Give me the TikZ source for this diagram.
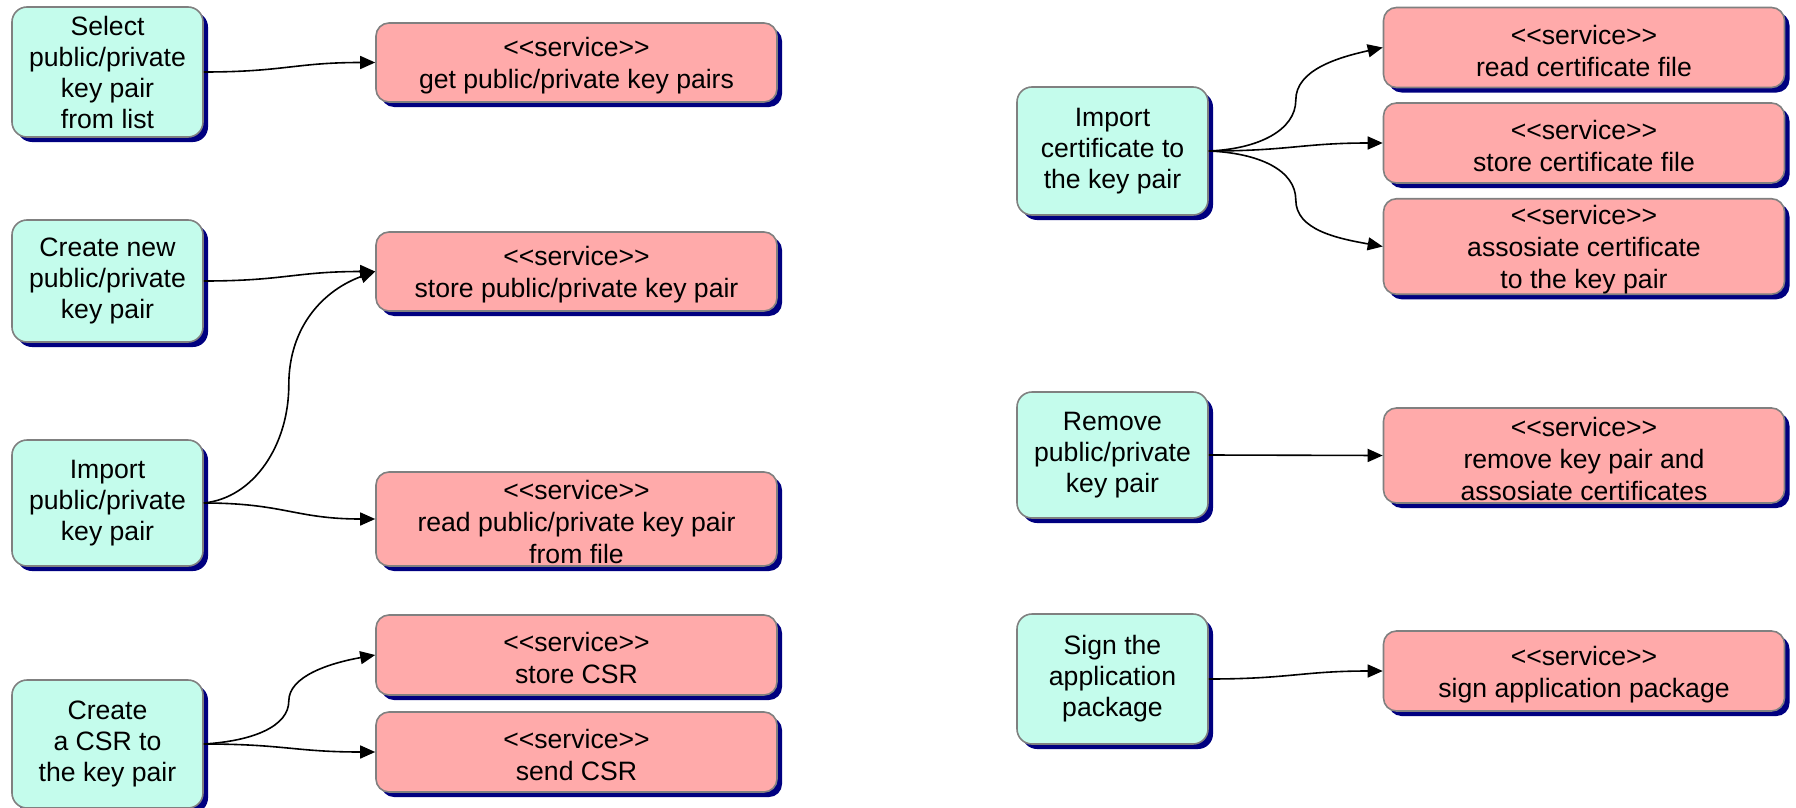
\documentclass[tikz,border=0pt]{standalone}
\usepackage{fontspec}
\setmainfont{Liberation Sans}
\usetikzlibrary{shadows,arrows.meta}
\definecolor{actfill}{RGB}{196,252,236}
\definecolor{svcfill}{RGB}{255,170,170}
\definecolor{bordergray}{RGB}{128,128,128}
\definecolor{shadownavy}{RGB}{0,0,128}
\newcommand\svc{\rule{0pt}{26pt}<\kern0pt<service>\kern0pt>}
\tikzset{
  box/.style={rectangle, draw=bordergray, line width=1.6pt, align=center, inner sep=0pt,
    drop shadow={shadow xshift=5pt, shadow yshift=-5pt, fill=shadownavy, opacity=1}},
  act/.style={box, fill=actfill, rounded corners=15pt, minimum width=191pt,
    font=\fontsize{26.6}{31}\selectfont},
  svcbox/.style={box, fill=svcfill, rounded corners=13pt, minimum width=401pt,
    font=\fontsize{26.6}{32}\selectfont},
  conn/.style={line width=1.6pt, -{Triangle[length=15pt,width=13pt]}},
}
\begin{document}
\begin{tikzpicture}[x=1pt,y=-1pt]
\useasboundingbox (0,0) rectangle (1796,808);
% left column activities
\node[act, minimum height=130pt] (g1) at (107.5,72) {Select\\public/private\\key pair\\from list};
\node[act, minimum height=122pt] (g2) at (107.5,281) {Create new\\public/private\\key pair};
\node[act, minimum height=126pt] (g3) at (107.5,503) {Import\\public/private\\key pair};
\node[act, minimum height=128pt] (g4) at (107.5,744) {Create\\a CSR to\\the key pair};
% left column services
\node[svcbox, minimum height=79pt] (r1) at (576.5,62.5) {\svc\\get public/private key pairs};
\node[svcbox, minimum height=79pt] (r2) at (576.5,271.5) {\svc\\store public/private key pair};
\node[svcbox, minimum height=94pt] (r3) at (576.5,519) {\svc\\read public/private key pair\\from file};
\node[svcbox, minimum height=80pt] (r4) at (576.5,655) {\svc\\store CSR};
\node[svcbox, minimum height=80pt] (r5) at (576.5,752) {\svc\\send CSR};
% right column activities
\node[act, minimum height=128pt] (g5) at (1112.5,151) {Import\\certificate to\\the key pair};
\node[act, minimum height=126pt] (g6) at (1112.5,455) {Remove\\public/private\\key pair};
\node[act, minimum height=130pt] (g7) at (1112.5,679) {Sign the\\application\\package};
% right column services
\node[svcbox, minimum height=80pt] (r6) at (1584,47.5) {\svc\\read certificate file};
\node[svcbox, minimum height=80pt] (r7) at (1584,143) {\svc\\store certificate file};
\node[svcbox, minimum height=94pt] (r8) at (1584,246.5) {\svc\\assosiate certificate\\to the key pair};
\node[svcbox, minimum height=95pt] (r9) at (1584,455.5) {\svc\\remove key pair and\\assosiate certificates};
\node[svcbox, minimum height=80pt] (r10) at (1584,671) {\svc\\sign application package};
% connectors
\draw[conn] (g1.east) .. controls +(80,0) and +(-80,0) .. (r1.west);
\draw[conn] (g2.east) .. controls +(80,0) and +(-80,0) .. (r2.west);
\draw[conn] (g3.east) .. controls +(50,-5) and +(0,60) .. ++(85,-118)
                      .. controls +(0,-60) and +(-50,18) .. (r2.west);
\draw[conn] (g3.east) .. controls +(80,0) and +(-80,0) .. (r3.west);
\draw[conn] (g4.east) .. controls +(50,-3) and +(0,25) .. ++(85,-43)
                      .. controls +(0,-25) and +(-45,8) .. (r4.west);
\draw[conn] (g4.east) .. controls +(80,0) and +(-80,0) .. (r5.west);
\draw[conn] (g5.east) .. controls +(50,-2) and +(0,30) .. ++(87,-51)
                      .. controls +(0,-30) and +(-45,10) .. (r6.west);
\draw[conn] (g5.east) .. controls +(80,0) and +(-80,0) .. (r7.west);
\draw[conn] (g5.east) .. controls +(50,2) and +(0,-30) .. ++(87,49)
                      .. controls +(0,30) and +(-45,-8) .. (r8.west);
\draw[conn] (g6.east) -- (r9.west);
\draw[conn] (g7.east) .. controls +(80,0) and +(-80,0) .. (r10.west);
\end{tikzpicture}
\end{document}
